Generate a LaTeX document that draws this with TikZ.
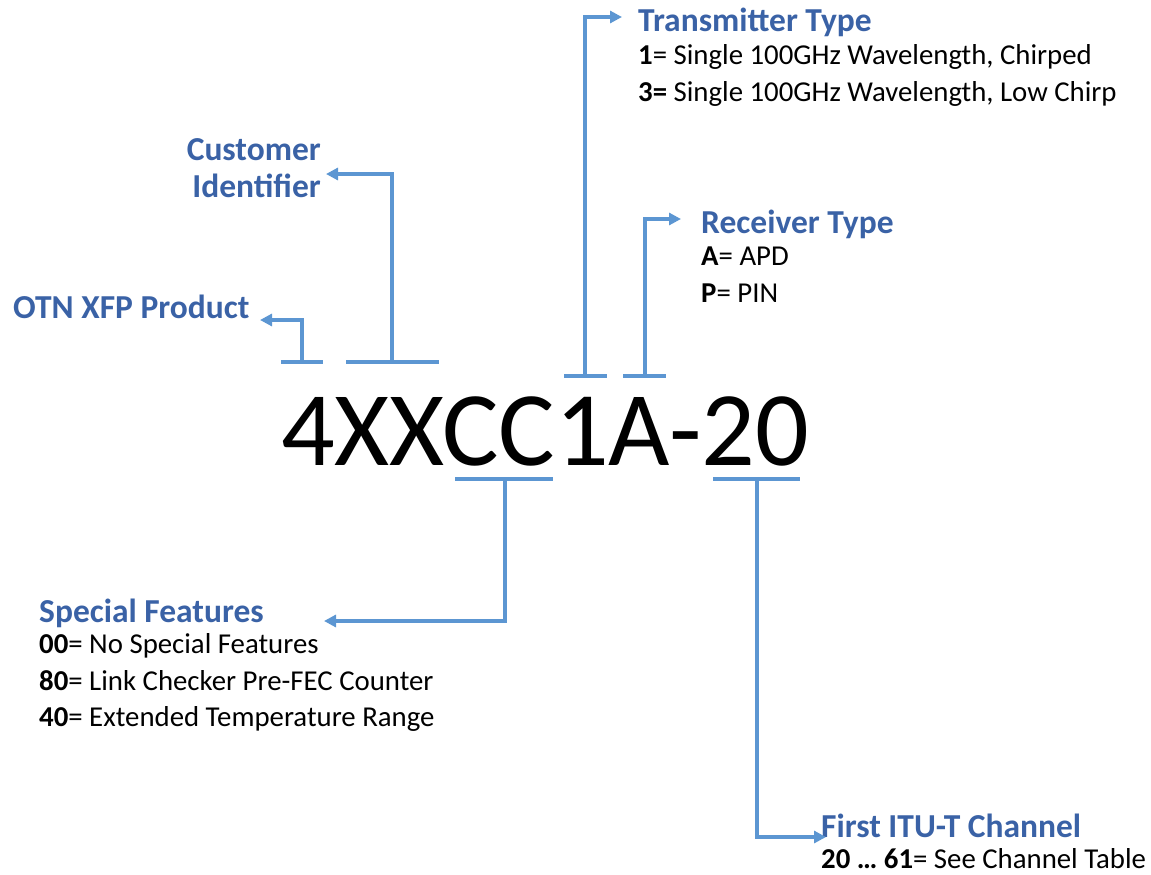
\documentclass[tikz,border=0pt]{standalone}
\usepackage{fontspec}
\setmainfont{Carlito}
\usetikzlibrary{arrows.meta}

\definecolor{headblue}{RGB}{58,98,166}
\definecolor{lineblue}{RGB}{92,150,210}

\tikzset{
  heading/.style={anchor=base west, inner sep=0pt, text=headblue,
    font=\fontsize{33.5}{37}\selectfont\bfseries},
  body/.style={anchor=base west, inner sep=0pt, text=black,
    font=\fontsize{28.8}{32}\selectfont},
  partno/.style={anchor=base west, inner sep=0pt, text=black,
    font=\fontsize{106}{120}\selectfont},
  bar/.style={draw=lineblue, line width=4pt},
  lead/.style={draw=lineblue, line width=3.2pt,
    -{Triangle[length=12pt,width=12pt]}}
}

\begin{document}
\begin{tikzpicture}[x=1pt,y=-1pt]
  \useasboundingbox (0,0) rectangle (1151,875);

  % part number
  \node[partno] (pn) at (281,465) {4XXCC1A-20};

  % labels
  \node[heading, anchor=base east, align=right] (cust) at (321,197)
    {Customer\\Identifier};
  \node[heading] (otn) at (13,318) {OTN XFP Product};
  \node[heading] (tx) at (638,32) {Transmitter Type};
  \node[body] (tx1) at (638,65) {\textbf{1}= Single 100GHz Wavelength, Chirped};
  \node[body] (tx3) at (638,101) {\textbf{3=} Single 100GHz Wavelength, Low Chirp};
  \node[heading] (rx) at (701,233) {Receiver Type};
  \node[body] (rxa) at (701,265) {\textbf{A}= APD};
  \node[body] (rxp) at (701,302) {\textbf{P}= PIN};
  \node[heading] (sf) at (39,622) {Special Features};
  \node[body] (sf0) at (39,653) {\textbf{00}= No Special Features};
  \node[body] (sf8) at (39,690) {\textbf{80}= Link Checker Pre-FEC Counter};
  \node[body] (sf4) at (39,726) {\textbf{40}= Extended Temperature Range};
  \node[heading] (ch) at (821,837) {First ITU-T Channel};
  \node[body] (chr) at (821,868) {\textbf{20 \dots\ 61}= See Channel Table};

  % bracket end points
  \coordinate (otnL) at (281,362);  \coordinate (otnR) at (323,362);
  \coordinate (otnM) at (302,362);  \coordinate (otnK) at (302,320);
  \coordinate (otnT) at (260,320);

  \coordinate (custL) at (346,362); \coordinate (custR) at (439,362);
  \coordinate (custM) at (392,362); \coordinate (custK) at (392,174);
  \coordinate (custT) at (326,174);

  \coordinate (txL) at (564,376);   \coordinate (txR) at (607,376);
  \coordinate (txM) at (585,376);   \coordinate (txK) at (585,17);
  \coordinate (txT) at (622,17);

  \coordinate (rxL) at (623,376);   \coordinate (rxR) at (666,376);
  \coordinate (rxM) at (645,376);   \coordinate (rxK) at (645,219);
  \coordinate (rxT) at (681,219);

  \coordinate (sfL) at (455,479);   \coordinate (sfR) at (553,479);
  \coordinate (sfM) at (505,479);   \coordinate (sfK) at (505,621);
  \coordinate (sfT) at (324,621);

  \coordinate (chL) at (713,479);   \coordinate (chR) at (800,479);
  \coordinate (chM) at (757,479);   \coordinate (chK) at (757,837);
  \coordinate (chT) at (826,837);

  % bars
  \foreach \b in {otn,cust,tx,rx,sf,ch}
    \draw[bar] (\b L) -- (\b R);

  % leaders with arrows
  \foreach \b in {otn,cust,tx,rx,sf,ch}
    \draw[lead] (\b M) -- (\b K) -- (\b T);
\end{tikzpicture}
\end{document}
